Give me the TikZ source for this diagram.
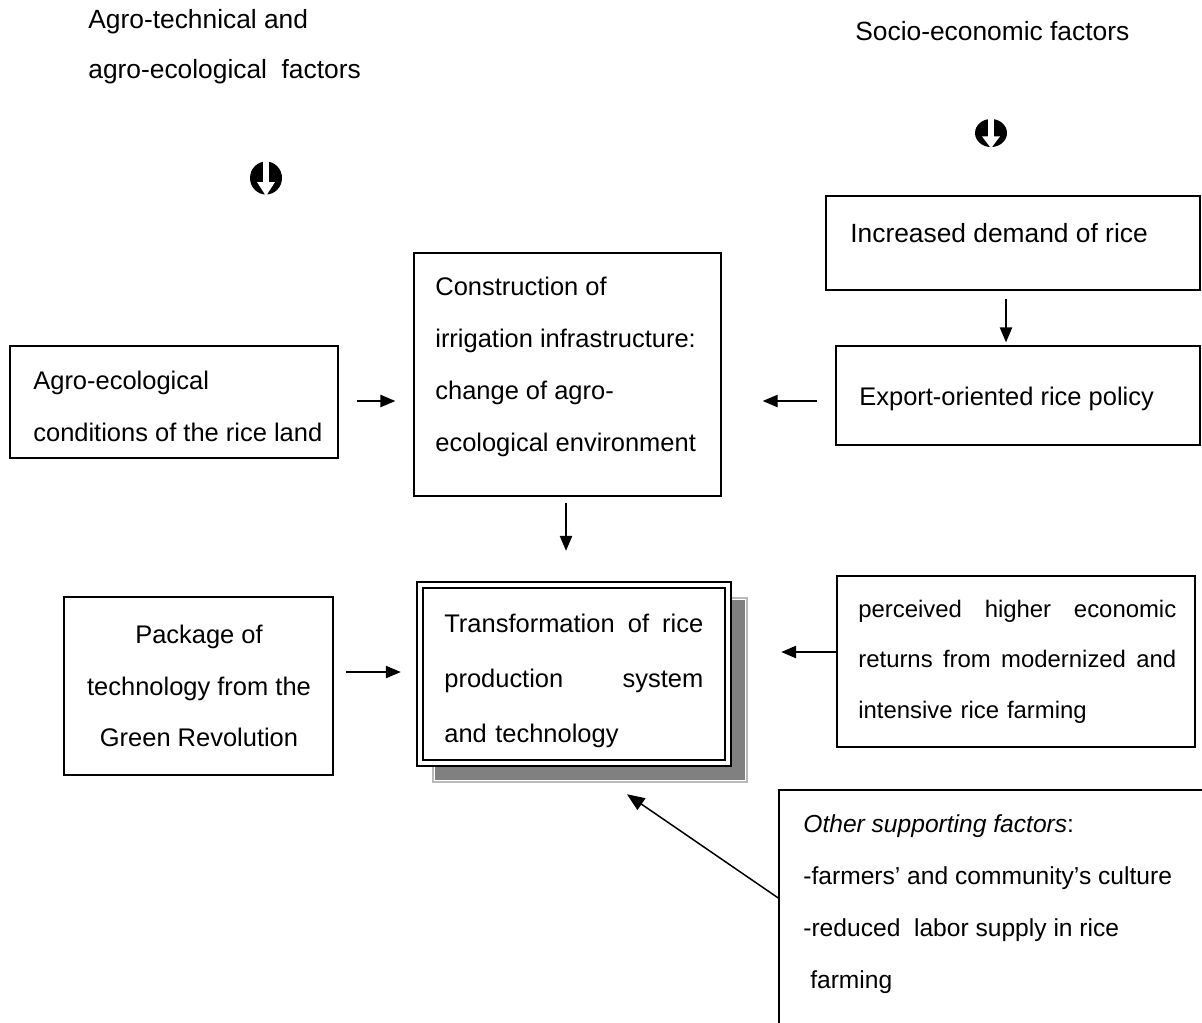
\documentclass[tikz,border=0pt]{standalone}
\usepackage{fontspec}
\setmainfont{Liberation Sans}
\usetikzlibrary{arrows.meta,fit}
\definecolor{shadowgray}{HTML}{808080}
\begin{document}
\begin{tikzpicture}[x=0.02cm,y=-0.02cm,
  boxst/.style={draw=black, line width=0.8pt, inner sep=0pt, fill=white},
  txt/.style={inner sep=0pt, anchor=west, font=\fontsize{14.5}{29.6}\selectfont, align=left},
  arr/.style={line width=0.85pt, -{Triangle[length=8.5pt,width=7pt]}},
  bigarr/.style={line width=0.85pt, -{Triangle[length=10pt,width=8pt]}},
  downglyph/.pic={
    \fill[black] (0,0) ellipse [x radius=0.32cm, y radius=0.33cm];
    \fill[white] (-3,-17) rectangle (3,5);
    \fill[white] (-9,4) -- (9,4) -- (0,18) -- cycle;
  }
]
\useasboundingbox (0,0) rectangle (1202,1022);
\clip (0,0) rectangle (1202,1022);

% boxes
\node[boxst, fit={(826,196) (1200,290)}] (inc) {};
\node[boxst, fit={(414,253) (721,496)}] (cons) {};
\node[boxst, fit={(10,346) (338,458)}] (agro) {};
\node[boxst, fit={(836,346) (1200,445)}] (exp) {};
\node[boxst, fit={(64,597) (333,775)}] (pkg) {};
\node[boxst, fit={(837,576) (1195,747)}] (perc) {};
\node[boxst, fit={(779,790) (1215,1045)}] (oth) {};

% central box with shadow
\node[fit={(433,598) (747,782)}, inner sep=0pt, draw=gray!55, line width=0.6pt, fill=white] (shad) {};
\fill[shadowgray] ([shift={(0.05cm,0.05cm)}]shad.south west) rectangle ([shift={(-0.05cm,-0.05cm)}]shad.north east);
\node[fit={(417,582) (731,766)}, inner sep=0pt, draw=black, line width=1.4pt, fill=white] (trans) {};
\draw[line width=0.9pt] ([shift={(0.14cm,0.14cm)}]trans.south west) rectangle ([shift={(-0.14cm,-0.14cm)}]trans.north east);

% glyphs
\pic at (266,178) {downglyph};
\pic[yscale=0.85] at (991,133) {downglyph};

% texts
\node[txt, font=\fontsize{15}{28.5}\selectfont] (h1) at (88,47) {Agro-technical and\\agro-ecological\ \ factors};
\node[txt, font=\fontsize{15}{28}\selectfont] (h2) at (855,31) {Socio-economic factors};
\node[txt, font=\fontsize{15}{29.6}\selectfont] (tinc) at (850,233) {Increased demand of rice};
\node[txt] (tcons) at (435,367) {Construction of\\irrigation infrastructure:\\change of agro-\\ecological environment};
\node[txt] (tagro) at (33,406) {Agro-ecological\\conditions of the rice land};
\node[txt] (texp) at (859,399) {Export-oriented rice policy};
\node[txt, text width=5.18cm, font=\fontsize{14.5}{31.3}\selectfont] (ttrans) at (444,681) {Transformation \hfill of \hfill rice\\production \hfill system\\and technology};
\node[txt, anchor=center, align=center, font=\fontsize{14.5}{29.3}\selectfont] (tpkg) at (199,686) {Package of\\technology from the\\Green Revolution};
\node[txt, text width=6.36cm, font=\fontsize{13.6}{28.7}\selectfont] (tperc) at (858,661.5) {perceived \hfill higher \hfill economic\\returns \hfill from \hfill modernized \hfill and\\intensive rice farming};
\node[txt, font=\fontsize{14}{29.6}\selectfont] (toth) at (803,904) {\textit{Other supporting factors}:\\-farmers’ and community’s culture\\-reduced\ \ labor supply in rice\\\hspace*{0.28em}farming};

% connectors
\coordinate (ax) at (1006,0);
\draw[arr, shorten <=0.16cm, shorten >=0.06cm] (inc.south -| ax) -- (exp.north -| ax);
\draw[arr, shorten <=0.36cm, shorten >=0.36cm] ([yshift=0.02cm]agro.east) -- ([yshift=0.02cm]agro.east -| cons.west);
\draw[arr, shorten <=0.36cm, shorten >=0.82cm] ([yshift=-0.11cm]exp.west) -- ([yshift=-0.11cm]exp.west -| cons.east);
\draw[arr, shorten <=0.12cm, shorten >=0.6cm] ([xshift=-0.03cm]cons.south) -- ([xshift=-0.03cm]cons.south |- trans.north);
\draw[arr, shorten <=0.24cm, shorten >=0.3cm] ([yshift=0.28cm]pkg.east) -- ([yshift=0.28cm]pkg.east -| trans.west);
\draw[arr, shorten >=0.98cm] ([yshift=0.19cm]perc.west) -- ([yshift=0.19cm]perc.west -| trans.east);
\draw[bigarr] ([yshift=0.39cm]oth.west) -- ([xshift=1.06cm,yshift=-0.54cm]trans.south);
\end{tikzpicture}
\end{document}
